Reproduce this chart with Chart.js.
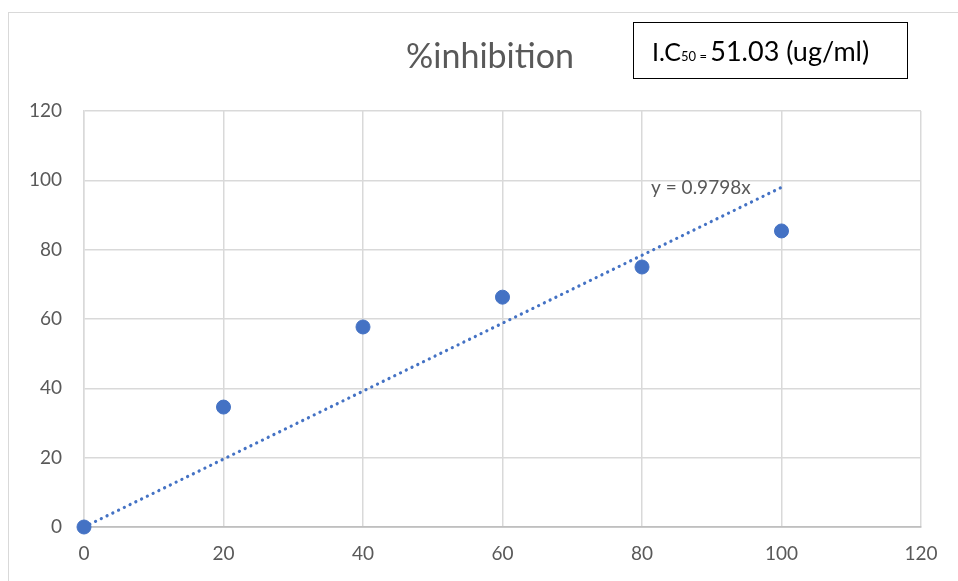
<!DOCTYPE html>
<html>
<head>
<meta charset="utf-8">
<script src="https://cdn.jsdelivr.net/npm/chart.js@4"></script>
<style>
html,body{margin:0;padding:0;background:#fff;}
#wrap{width:958px;height:581px;position:relative;}
</style>
</head>
<body>
<div id="wrap"><canvas id="c" width="958" height="581"></canvas></div>
<script>
const concentrations = [0, 20, 40, 60, 80, 100];
const inhibition = [0, 34.6, 57.7, 66.3, 75.0, 85.4];
const trendX = [0, 100];
const trendY = [0, 97.98];
const titleText = "%inhibition";
const trendLabel = "y = 0.9798x";
const icLabelPre = "I.C";
const icLabelSub = "50 = ";
const icLabelPost = "51.03 (ug/ml)";

const FONT = "Lato, 'Open Sans', sans-serif";

const decor = {
  id: 'decor',
  beforeDraw(chart) {
    const ctx = chart.ctx;
    ctx.save();
    ctx.fillStyle = '#fff';
    ctx.fillRect(0, 0, chart.width, chart.height);
    ctx.strokeStyle = '#d9d9d9';
    ctx.lineWidth = 1;
    ctx.strokeRect(8.5, 12.5, 980, 600);
    ctx.restore();
  },
  afterDraw(chart) {
    const ctx = chart.ctx;
    ctx.save();
    // title
    ctx.fillStyle = '#595959';
    ctx.font = "34px " + FONT;
    ctx.textAlign = 'center';
    ctx.textBaseline = 'middle';
    ctx.fillText(titleText, 490, 57);
    // IC50 box
    ctx.fillStyle = '#fff';
    ctx.fillRect(633, 22, 274, 56);
    ctx.strokeStyle = '#000';
    ctx.lineWidth = 1;
    ctx.strokeRect(633.5, 22.5, 274, 56);
    ctx.fillStyle = '#000';
    ctx.textAlign = 'left';
    ctx.textBaseline = 'alphabetic';
    let x = 652;
    const yb = 61;
    ctx.font = "25px " + FONT;
    ctx.fillText(icLabelPre, x, yb);
    x += ctx.measureText(icLabelPre).width;
    ctx.font = "13px " + FONT;
    ctx.fillText(icLabelSub, x, yb);
    x += ctx.measureText(icLabelSub).width;
    ctx.font = "27px " + FONT;
    ctx.fillText(icLabelPost, x, yb);
    // trend label
    const xs = chart.scales.x, ys = chart.scales.y;
    ctx.fillStyle = '#595959';
    ctx.font = "19px " + FONT;
    ctx.textAlign = 'left';
    ctx.textBaseline = 'middle';
    ctx.fillText(trendLabel, xs.getPixelForValue(81.3), ys.getPixelForValue(97.8));
    ctx.restore();
  }
};

new Chart(document.getElementById('c'), {
  type: 'scatter',
  data: {
    datasets: [
      {
        type: 'line',
        data: trendX.map((v, i) => ({x: v, y: trendY[i]})),
        borderColor: '#4472C4',
        borderWidth: 3.2,
        borderDash: [0.1, 6.3],
        borderCapStyle: 'round',
        pointRadius: 0,
        fill: false,
        clip: false,
        order: 2
      },
      {
        data: concentrations.map((v, i) => ({x: v, y: inhibition[i]})),
        backgroundColor: '#4472C4',
        borderColor: '#4472C4',
        pointRadius: 7,
        pointHoverRadius: 7,
        clip: false,
        order: 1
      }
    ]
  },
  options: {
    responsive: false,
    animation: false,
    events: [],
    layout: { padding: { top: 111, right: 37, left: 0, bottom: 0 } },
    plugins: { legend: { display: false }, tooltip: { enabled: false }, title: { display: false } },
    scales: {
      x: {
        type: 'linear',
        min: 0, max: 120,
        ticks: { stepSize: 20, color: '#595959', font: { family: FONT, size: 19 }, padding: 15 },
        grid: { color: '#d9d9d9', lineWidth: 1.5, drawTicks: false },
        border: { display: true, color: '#bfbfbf', width: 1.8 },
        afterFit(s) { s.height = 54; }
      },
      y: {
        min: 0, max: 120,
        ticks: { stepSize: 20, color: '#595959', font: { family: FONT, size: 19 }, padding: 22 },
        grid: { color: '#d9d9d9', lineWidth: 1.5, drawTicks: false },
        border: { display: true, color: '#d9d9d9', width: 1.5 },
        afterFit(s) { s.width = 84; }
      }
    }
  },
  plugins: [decor]
});
</script>
</body>
</html>
